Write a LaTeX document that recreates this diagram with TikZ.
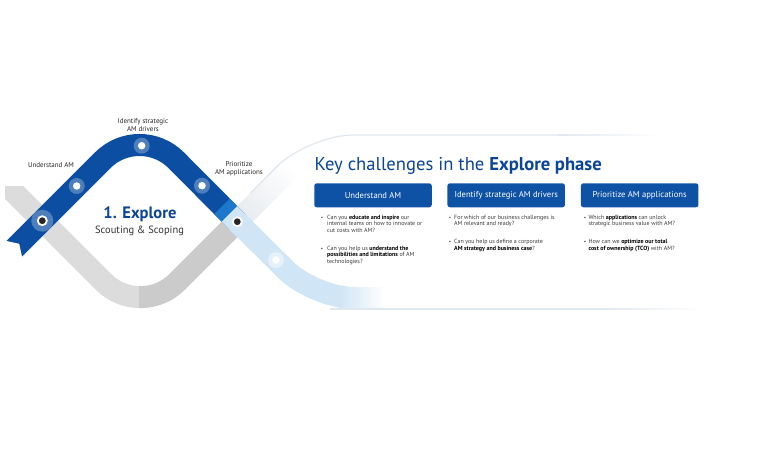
\documentclass[tikz,border=0pt]{standalone}
\usepackage{fontspec}
\setmainfont{PT Sans}
\definecolor{dblue}{HTML}{0C4EA2}
\definecolor{bblue}{HTML}{1C78CC}
\definecolor{lblue}{HTML}{D0E5F5}
\definecolor{mgray}{HTML}{CBCBCB}
\definecolor{lgray}{HTML}{DCDCDC}
\definecolor{vgray}{HTML}{E6EAEE}
\definecolor{edgec}{HTML}{DFE7EF}
\definecolor{txt}{HTML}{3A3A3A}
\definecolor{tblue}{HTML}{0B4597}
\definecolor{boxc}{HTML}{0D52A5}
\begin{document}
\begin{tikzpicture}[x=1pt,y=-1pt,
  band/.style={line width=22pt},
  lbl/.style={font=\fontsize{7}{7.6}\selectfont, text=black!85, inner sep=0pt},
  hbox/.style={fill=boxc, rounded corners=2.5pt, minimum width=117.5pt, minimum height=24pt, inner sep=0pt, text=white, font=\fontsize{8.6}{10}\selectfont},
  qline/.style={anchor=base west, inner sep=0pt, font=\fontsize{6}{6.8}\selectfont, text=txt},
  bul/.style={anchor=base, inner sep=0pt, font=\fontsize{5}{6}\selectfont, text=txt},
  wdot/.style={circle, fill=white, inner sep=0pt, minimum size=7.5pt},
  bdot/.style={circle, fill=black!85, draw=white, line width=1.8pt, inner sep=0pt, minimum size=9pt}
]
\useasboundingbox (0,0) rectangle (760,475);
\fill[white] (0,0) rectangle (760,475);

% gray band
\begin{scope}
  \clip (5,186) rectangle (760,475);
  \begin{scope}
    \clip (0,0) rectangle (139,475);
    \draw[band,lgray,rounded corners=52pt] (-30,148.4) -- (140.3,318.7) -- (237.3,221.7);
  \end{scope}
  \begin{scope}
    \clip (139,0) rectangle (760,475);
    \draw[band,mgray,rounded corners=52pt] (-30,148.4) -- (140.3,318.7) -- (237.3,221.7);
  \end{scope}
\end{scope}

% light gray band (up-right) fading
\shade[left color=vgray, right color=white, shading angle=135]
  (229.5,213.9) -- (245.1,229.5) -- (302.8,171.8) -- (287.2,156.2) -- cycle;
\draw[edgec, line width=1.2pt, rounded corners=45pt] (250,193.4) -- (308.4,135) -- (560,135);
\shade[left color=edgec, right color=white] (559,134.4) rectangle (660,135.6);

% light blue band (down-right)
\draw[band,lblue,rounded corners=40pt] (237.3,221.7) -- (314.3,298) -- (340,298);
\shade[left color=lblue, right color=white] (339.5,287) rectangle (385,309);
\fill[edgec] (330,308.4) rectangle (600,309.6);
\shade[left color=edgec, right color=white] (599,308.4) rectangle (705,309.6);

% blue ribbon
\draw[band,dblue,rounded corners=52pt] (13.5,249.5) -- (139.6,123.4) -- (237.3,221.7);
\draw[band,bblue] (222,206.4) -- (237.3,221.7);
\fill[lblue] (221.7,221.7) -- (237.3,206.1) -- (252.9,221.7) -- (237.3,237.3) -- cycle;
\fill[white] (4.6,240.6) -- (19.2,243.8) -- (22.4,258.4) -- (15,265) -- (0,250) -- cycle;

% dots
\fill[white, fill opacity=0.28] (42.3,220.7) circle [radius=11pt];
\fill[white, fill opacity=0.28] (76.7,186) circle [radius=8pt];
\fill[white, fill opacity=0.28] (141.7,145.7) circle [radius=8pt];
\fill[white, fill opacity=0.28] (202,185.7) circle [radius=8pt];
\fill[white, fill opacity=0.45] (276,260) circle [radius=8pt];
\node[bdot] (p1) at (42.3,220.7) {};
\node[wdot] (p2) at (76.7,186) {};
\node[wdot] (p3) at (141.7,145.7) {};
\node[wdot] (p4) at (202,185.7) {};
\node[bdot] (p5) at (237.3,221.7) {};
\node[wdot] (p6) at (276,260) {};

% left labels
\node[lbl] (lu) at (51,165.5) {Understand AM};
\node[lbl, align=center] (li) at (143,125) {Identify strategic\\AM drivers};
\node[lbl, align=center] (lp) at (239,169) {Prioritize\\AM applications};

\node[anchor=base, inner sep=0pt, text=tblue, font=\fontsize{16.5}{18}\selectfont\bfseries] (ex) at (140,218.5) {1. Explore};
\node[anchor=base, inner sep=0pt, text=black!80, font=\fontsize{10.5}{12}\selectfont] (sc) at (139.5,233.5) {Scouting \& Scoping};

% panel
\node[anchor=base west, inner sep=0pt, text=tblue, font=\fontsize{18.6}{22}\selectfont] (title) at (314.5,170.5) {Key challenges in the \textbf{Explore phase}};

\node[hbox] (h1) at (373,195.3) {Understand AM};
\node[hbox] (h2) at (506.2,195.3) {Identify strategic AM drivers};
\node[hbox] (h3) at (639.7,195.3) {Prioritize AM applications};

% column 1
\node[bul] (u1) at (322,219) {•};
\node[qline] (u1a) at (327,219) {Can you \textbf{\color{black}educate and inspire} our};
\node[qline] (u1b) at (327,225.8) {internal teams on how to innovate or};
\node[qline] (u1c) at (327,232.6) {cut costs with AM?};
\node[bul] (u2) at (322,250.1) {•};
\node[qline] (u2a) at (327,250.1) {Can you help us \textbf{\color{black}understand the}};
\node[qline] (u2b) at (327,256.9) {\textbf{\color{black}possibilities and limitations} of AM};
\node[qline] (u2c) at (327,263.7) {technologies?};

% column 2
\node[bul] (i1) at (450,219) {•};
\node[qline] (i1a) at (454,219) {For which of our business challenges is};
\node[qline] (i1b) at (454,225.8) {AM relevant and ready?};
\node[bul] (i2) at (450,243.3) {•};
\node[qline] (i2a) at (454,243.3) {Can you help us define a corporate};
\node[qline] (i2b) at (454,250.1) {\textbf{\color{black}AM strategy and business case}?};

% column 3
\node[bul] (r1) at (585,219) {•};
\node[qline] (r1a) at (588.3,219) {Which \textbf{\color{black}applications} can unlock};
\node[qline] (r1b) at (588.3,225.8) {strategic business value with AM?};
\node[bul] (r2) at (585,243.3) {•};
\node[qline] (r2a) at (588.3,243.3) {How can we \textbf{\color{black}optimize our total}};
\node[qline] (r2b) at (588.3,250.1) {\textbf{\color{black}cost of ownership (TCO)} with AM?};
\end{tikzpicture}
\end{document}
